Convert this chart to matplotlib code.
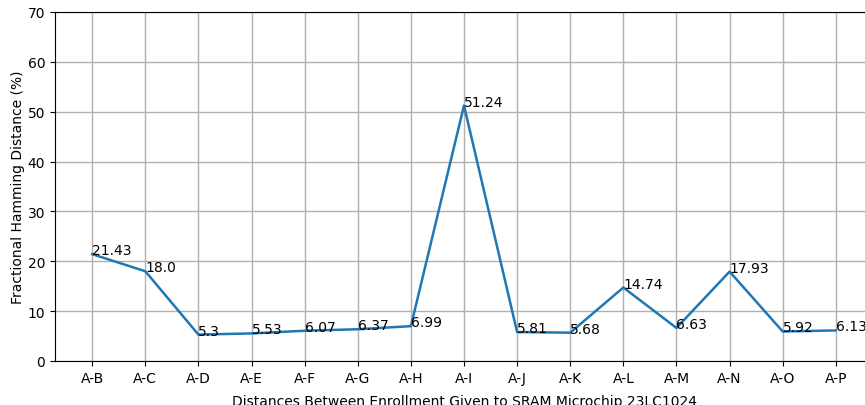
import matplotlib
matplotlib.use("Agg")
import matplotlib.pyplot as plt

# Pairwise distances between enrollment A and the others
pairs = ["A-B", "A-C", "A-D", "A-E", "A-F", "A-G", "A-H", "A-I",
         "A-J", "A-K", "A-L", "A-M", "A-N", "A-O", "A-P"]
distances = [21.43, 18.0, 5.3, 5.53, 6.07, 6.37, 6.99, 51.24,
             5.81, 5.68, 14.74, 6.63, 17.93, 5.92, 6.13]

fig = plt.figure(figsize=(8.65, 4.06), dpi=100)
# the original was cropped: right edge and x label run off the picture
ax = fig.add_axes([55 / 865, 44 / 406, 818 / 865, 349 / 406])

ax.plot(pairs, distances, color="#1f77b4", linewidth=1.8)
for i, v in enumerate(distances):
    ax.text(i, v, str(v), fontsize=10)

ax.set_ylim(0, 70)
ax.grid(True, color="#b0b0b0", linewidth=1)
ax.set_axisbelow(True)
ax.set_xlabel("Distances Between Enrollment Given to SRAM Microchip 23LC1024", labelpad=7)
ax.set_ylabel("Fractional Hamming Distance (%)", labelpad=2)

plt.savefig("out.png", dpi=100)
